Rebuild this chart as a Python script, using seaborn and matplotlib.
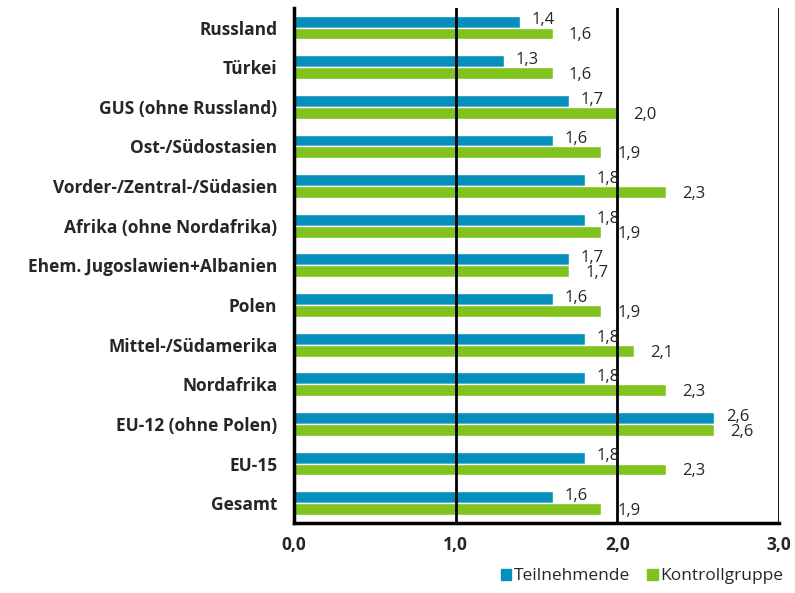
import pandas as pd
import matplotlib.pyplot as plt
import seaborn as sns
from matplotlib.patches import Patch

regions = ['Russland', 'Türkei', 'GUS (ohne Russland)', 'Ost-/Südostasien',
           'Vorder-/Zentral-/Südasien', 'Afrika (ohne Nordafrika)',
           'Ehem. Jugoslawien+Albanien', 'Polen', 'Mittel-/Südamerika',
           'Nordafrika', 'EU-12 (ohne Polen)', 'EU-15', 'Gesamt']
teilnehmende = [1.4, 1.3, 1.7, 1.6, 1.8, 1.8, 1.7, 1.6, 1.8, 1.8, 2.6, 1.8, 1.6]
kontrollgruppe = [1.6, 1.6, 2.0, 1.9, 2.3, 1.9, 1.7, 1.9, 2.1, 2.3, 2.6, 2.3, 1.9]
groups = ['Teilnehmende', 'Kontrollgruppe']
colors = ['#058fbd', '#80c31d']

df = pd.DataFrame({
    'region': regions * 2,
    'wert': teilnehmende + kontrollgruppe,
    'gruppe': [groups[0]] * len(regions) + [groups[1]] * len(regions),
})

sns.set_style('white')
plt.rcParams['font.family'] = ['Open Sans', 'DejaVu Sans']

fig, ax = plt.subplots(figsize=(7.95, 5.93), dpi=100)
fig.subplots_adjust(left=0.37, right=0.98, top=0.987, bottom=0.118)

sns.barplot(data=df, y='region', x='wert', hue='gruppe', orient='h',
            palette=colors, width=0.6, gap=0, saturation=1, ax=ax, legend=False)

# value labels
for i, (t, k) in enumerate(zip(teilnehmende, kontrollgruppe)):
    ax.text(t + 0.07, i - 0.18, f'{t:.1f}'.replace('.', ','), va='center',
            ha='left', fontsize=12, zorder=5)
    ax.text(k + 0.1, i + 0.2, f'{k:.1f}'.replace('.', ','), va='center',
            ha='left', fontsize=12, zorder=5)

ax.set_xlim(0, 3.0)
ax.set_ylim(len(regions) - 0.5, -0.5)
ax.set_xticks([0, 1, 2, 3])
ax.set_xticklabels(['0,0', '1,0', '2,0', '3,0'], fontweight='bold', fontsize=12.5)
ax.set_yticks(range(len(regions)))
ax.set_yticklabels(regions, fontweight='bold', fontsize=12.5)
ax.set_yticks([i - 0.5 for i in range(len(regions) + 1)], minor=True)
ax.tick_params(axis='y', which='major', length=0, pad=12)
ax.tick_params(axis='y', which='minor', length=5, width=2, direction='out')
ax.tick_params(axis='x', length=5, width=2, direction='out', pad=4)
ax.set_xlabel('')
ax.set_ylabel('')

for x in [1, 2, 3]:
    ax.axvline(x, color='black', lw=2, zorder=3)

for side in ['top', 'right']:
    ax.spines[side].set_visible(False)
for side in ['left', 'bottom']:
    ax.spines[side].set_linewidth(2.5)
    ax.spines[side].set_color('black')

handles = [Patch(color=c, label=g) for c, g in zip(colors, groups)]
fig.legend(handles=handles, loc='lower right', bbox_to_anchor=(1.005, -0.012),
           ncol=2, frameon=False, fontsize=12.5, handlelength=0.6,
           handleheight=0.6, handletextpad=0.15, columnspacing=1.0)

fig.savefig('out.png', dpi=100)
